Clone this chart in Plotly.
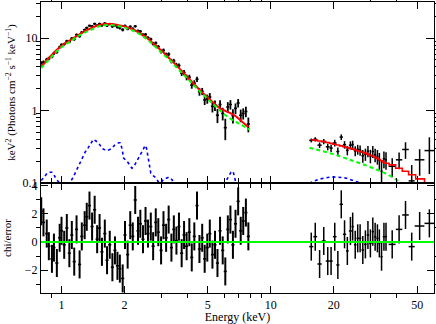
import plotly.graph_objects as go
from plotly.subplots import make_subplots

# low energy spectrum (keV, keV^2 Photons cm^-2 s^-1 keV^-1)
lo_e = [0.80, 0.82, 0.85, 0.87, 0.90, 0.92, 0.95, 0.98, 1.00, 1.03, 1.06, 1.09, 1.12, 1.15, 1.18, 1.22,
        1.25, 1.29, 1.32, 1.36, 1.40, 1.44, 1.48, 1.52, 1.56, 1.61, 1.65, 1.70, 1.75, 1.80, 1.85, 1.90,
        1.96, 2.01, 2.07, 2.13, 2.19, 2.25, 2.32, 2.38, 2.45, 2.52, 2.59, 2.67, 2.74, 2.82, 2.90, 2.99,
        3.07, 3.16, 3.25, 3.35, 3.44, 3.54, 3.64, 3.75, 3.85, 3.96, 4.08, 4.19, 4.31, 4.44, 4.56, 4.70,
        4.83, 4.97, 5.11, 5.26, 5.41, 5.56, 5.72, 5.89, 6.06, 6.23, 6.41, 6.59, 6.78, 6.98, 7.18, 7.38,
        7.60, 7.81]
lo_model = [4.0, 4.3, 4.9, 5.3, 5.9, 6.3, 6.9, 7.4, 7.8, 8.3, 8.7, 9.2, 9.7, 10.2, 10.7, 11.3,
            11.8, 12.4, 12.9, 13.4, 13.9, 14.4, 14.8, 15.1, 15.4, 15.6, 15.7, 15.7, 15.6, 15.4, 15.2, 15.0,
            14.7, 14.4, 14.0, 13.6, 13.2, 12.7, 12.1, 11.6, 11.0, 10.4, 9.8, 9.1, 8.5, 7.9, 7.3, 6.8,
            6.3, 5.8, 5.4, 4.95, 4.55, 4.2, 3.85, 3.5, 3.2, 2.95, 2.7, 2.5, 2.3, 2.1, 1.93, 1.78,
            1.65, 1.53, 1.42, 1.32, 1.22, 1.14, 1.07, 1.02, 0.98, 0.95, 0.92, 0.89, 0.84, 0.78, 0.72, 0.67,
            0.63, 0.59]
lo_flux = [4.53, 4.65, 5.06, 5.22, 5.54, 6.17, 6.41, 7.5, 8.09, 8.23, 9.08, 8.88, 9.9, 9.6, 11.1, 10.56,
           11.99, 13.0, 13.84, 14.8, 14.52, 15.73, 14.92, 15.7, 14.97, 15.97, 14.88, 15.57, 14.45, 15.01, 14.11, 13.77,
           13.01, 14.73, 13.43, 14.36, 13.45, 14.53, 12.57, 12.35, 11.11, 11.2, 10.11, 9.63, 8.36, 8.52, 7.59, 6.55,
           6.77, 5.91, 5.98, 4.81, 4.84, 4.23, 4.17, 3.28, 3.34, 2.87, 2.87, 2.24, 2.39, 2.70, 1.82, 1.84,
           1.40, 1.45, 1.54, 1.14, 1.18, 0.86, 1.21, 0.91, 0.58, 1.12, 1.21, 0.85, 1.07, 1.27, 0.86, 0.91,
           0.97, 0.65]
lo_err = [0.24, 0.25, 0.27, 0.28, 0.30, 0.32, 0.33, 0.35, 0.36, 0.37, 0.38, 0.40, 0.41, 0.43, 0.44, 0.46,
          0.47, 0.50, 0.52, 0.54, 0.56, 0.58, 0.59, 0.60, 0.62, 0.62, 0.63, 0.63, 0.64, 0.65, 0.64, 0.65,
          0.65, 0.65, 0.63, 0.63, 0.62, 0.61, 0.59, 0.58, 0.55, 0.53, 0.51, 0.48, 0.47, 0.44, 0.42, 0.41,
          0.39, 0.37, 0.36, 0.34, 0.32, 0.31, 0.29, 0.28, 0.27, 0.26, 0.24, 0.24, 0.23, 0.23, 0.22, 0.21,
          0.21, 0.21, 0.20, 0.20, 0.195, 0.19, 0.18, 0.18, 0.19, 0.185, 0.18, 0.19, 0.18, 0.17, 0.17, 0.16,
          0.16, 0.15]
lo_chi = [2.2, 1.4, 0.6, -0.3, -1.2, -0.4, -1.5, 0.3, 0.8, -0.2, 1.0, -0.8, 0.5, -1.4, 0.9, -1.6,
          0.4, 1.2, 1.8, 2.6, 1.1, 2.3, 0.2, 1.0, -0.7, 0.6, -1.3, -0.2, -1.8, -0.6, -1.7, -1.9,
          -2.6, 0.5, -0.9, 1.2, 0.4, 3.0, 0.8, 1.3, 0.2, 1.5, 0.6, 1.1, -0.3, 1.4, 0.7, -0.6,
          1.2, 0.3, 1.6, -0.4, 0.9, 0.1, 1.1, -0.8, 0.5, -0.3, 0.7, -1.1, 0.4, 2.6, -0.5, 0.3,
          -1.2, -0.4, 0.6, -0.9, -0.2, -1.5, 0.8, -0.6, -2.1, 0.9, 1.6, -0.2, 1.3, 2.9, 0.8, 1.5,
          2.1, 0.4]

# high energy spectrum
hi_e = [15.6, 16.3, 17.1, 17.9, 18.7, 19.4, 20.2, 20.9, 21.7, 22.5, 23.2, 24.0, 24.6, 25.3, 26.0, 26.7,
        27.5, 28.3, 29.1, 29.9, 30.7, 31.5, 32.3, 33.0, 33.8, 34.7, 35.5, 38.0, 41.0, 44.0, 47.1, 51.4, 57.2]
hi_de = [0.35, 0.35, 0.4, 0.4, 0.4, 0.35, 0.4, 0.35, 0.4, 0.4, 0.35, 0.4, 0.3, 0.35, 0.35, 0.35,
         0.4, 0.4, 0.4, 0.4, 0.4, 0.4, 0.4, 0.35, 0.4, 0.45, 0.4, 1.45, 1.45, 1.6, 1.55, 2.75, 3.0]
hi_model = [0.395, 0.39, 0.38, 0.372, 0.362, 0.353, 0.343, 0.334, 0.325, 0.316, 0.308, 0.30, 0.293, 0.286,
            0.279, 0.272, 0.265, 0.258, 0.25, 0.242, 0.234, 0.226, 0.218, 0.211, 0.203, 0.195, 0.187,
            0.178, 0.16, 0.145, 0.13, 0.114, 0.085]
hi_flux = [0.387, 0.40, 0.333, 0.374, 0.316, 0.304, 0.357, 0.272, 0.43, 0.338, 0.282, 0.333, 0.34, 0.277,
           0.291, 0.284, 0.238, 0.25, 0.275, 0.237, 0.272, 0.246, 0.232, 0.206, 0.145, 0.216, 0.209,
           0.17, 0.209, 0.29, 0.107, 0.209, 0.28]
hi_err = [0.024, 0.027, 0.030, 0.032, 0.034, 0.036, 0.037, 0.038, 0.039, 0.040, 0.041, 0.042, 0.043, 0.044,
          0.045, 0.046, 0.047, 0.048, 0.049, 0.050, 0.051, 0.052, 0.053, 0.054, 0.055, 0.056, 0.057,
          0.05, 0.054, 0.075, 0.07, 0.083, 0.147]
hi_chi = [-0.33, 0.38, -1.57, 0.07, -1.36, -1.36, 0.38, -1.64, 2.69, 0.55, -0.64, 0.79, 1.1, -0.2, 0.26, 0.26,
          -0.57, -0.17, 0.5, -0.1, 0.74, 0.38, 0.26, -0.1, -1.05, 0.38, 0.38, -0.17, 0.9, 1.93, -0.33, 1.14, 1.33]

# model components
green_lo_e = [0.80, 0.85, 0.90, 0.95, 1.0, 1.1, 1.2, 1.3, 1.4, 1.5, 1.6, 1.7, 1.8, 1.9, 2.0, 2.2,
              2.4, 2.6, 2.8, 3.0, 3.3, 3.6, 4.0, 4.5, 5.0, 5.5, 6.0, 6.5, 7.0, 7.5, 7.9]
green_lo_f = [3.85, 4.65, 5.6, 6.6, 7.45, 9.0, 10.6, 12.0, 13.3, 14.4, 15.0, 15.2, 14.9, 14.5, 14.0, 12.6,
              11.0, 9.25, 7.65, 6.4, 4.9, 3.75, 2.72, 1.93, 1.43, 1.10, 0.88, 0.75, 0.66, 0.59, 0.55]
green_hi_e = [15.3, 17, 19, 21, 23, 25, 27, 29, 31, 33, 35, 37, 39, 41, 43, 45]
green_hi_f = [0.306, 0.285, 0.26, 0.238, 0.218, 0.201, 0.187, 0.172, 0.159, 0.148, 0.137, 0.126, 0.116,
              0.106, 0.097, 0.089]
blue_lo_e = [0.80, 0.83, 0.855, 0.88, 0.90, 0.92, 0.94, 0.97, 1.00, 1.05, 1.10, 1.14, 1.17, 1.20, 1.23, 1.27,
             1.30, 1.34, 1.37, 1.42, 1.46, 1.50, 1.53, 1.56, 1.60, 1.65, 1.70, 1.74, 1.79, 1.84, 1.88, 1.91,
             1.95, 1.98, 2.02, 2.06, 2.11, 2.17, 2.22, 2.29, 2.35, 2.42, 2.47, 2.51, 2.55, 2.58, 2.62, 2.67,
             2.75, 2.82, 2.90, 2.98, 3.07, 3.17, 3.25, 3.32, 3.38, 3.45, 3.6, 4.0, 5.0, 5.8, 6.0, 6.15,
             6.3, 6.45, 6.6, 6.7, 6.8, 6.95, 7.2, 7.9]
blue_lo_f = [0.108, 0.125, 0.137, 0.141, 0.141, 0.13, 0.115, 0.103, 0.095, 0.094, 0.102, 0.122, 0.143, 0.17,
             0.198, 0.235, 0.27, 0.305, 0.34, 0.40, 0.38, 0.36, 0.33, 0.30, 0.29, 0.28, 0.29, 0.30, 0.33,
             0.35, 0.36, 0.36, 0.29, 0.22, 0.21, 0.198, 0.18, 0.16, 0.17, 0.198, 0.23, 0.27, 0.30, 0.33,
             0.30, 0.245, 0.18, 0.137, 0.125, 0.118, 0.104, 0.10, 0.112, 0.118, 0.12, 0.115, 0.11, 0.09,
             0.07, 0.05, 0.05, 0.07, 0.095, 0.11, 0.125, 0.14, 0.145, 0.125, 0.1, 0.08, 0.07, 0.06]
blue_hi_e = [15.3, 16.0, 17.0, 18.0, 19.0, 20.0, 21.0, 22.0, 23.0, 24.0, 25.0, 26.0, 27.0, 28.0, 30.0]
blue_hi_f = [0.099, 0.106, 0.113, 0.117, 0.12, 0.121, 0.121, 0.119, 0.116, 0.112, 0.107, 0.103, 0.099,
             0.095, 0.088]

FONT = 'Liberation Serif'

fig = make_subplots(rows=2, cols=1, shared_xaxes=True, vertical_spacing=0,
                    row_heights=[0.622, 0.378])

# data crosses, top panel
fig.add_trace(go.Scatter(
    x=lo_e, y=lo_flux, mode='markers', marker=dict(size=1, color='black'),
    error_y=dict(type='data', array=lo_err, width=0, thickness=1.8, color='black'),
    error_x=dict(type='percent', value=1.7, width=0, thickness=1.6, color='black'),
), row=1, col=1)
fig.add_trace(go.Scatter(
    x=hi_e, y=hi_flux, mode='markers', marker=dict(size=1, color='black'),
    error_y=dict(type='data', array=hi_err, width=0, thickness=1.5, color='black'),
    error_x=dict(type='data', array=hi_de, width=0, thickness=1.5, color='black'),
), row=1, col=1)

# components
fig.add_trace(go.Scatter(x=blue_lo_e, y=blue_lo_f, mode='lines',
                         line=dict(color='#0000ff', width=1.6, dash='3px,3px')), row=1, col=1)
fig.add_trace(go.Scatter(x=blue_hi_e, y=blue_hi_f, mode='lines',
                         line=dict(color='#0000ff', width=1.6, dash='3px,3px')), row=1, col=1)
fig.add_trace(go.Scatter(x=lo_e, y=lo_model, mode='lines',
                         line=dict(color='#ff0000', width=2)), row=1, col=1)
fig.add_trace(go.Scatter(x=hi_e, y=hi_model, mode='lines', line_shape='hvh',
                         line=dict(color='#ff0000', width=1.6)), row=1, col=1)
fig.add_trace(go.Scatter(x=green_lo_e, y=green_lo_f, mode='lines',
                         line=dict(color='#00ff00', width=2, dash='4px,3px')), row=1, col=1)
fig.add_trace(go.Scatter(x=green_hi_e, y=green_hi_f, mode='lines',
                         line=dict(color='#00ff00', width=2, dash='4px,3px')), row=1, col=1)

# residuals
fig.add_trace(go.Scatter(
    x=lo_e, y=lo_chi, mode='markers', marker=dict(size=1, color='black'),
    error_y=dict(type='constant', value=1, width=0, thickness=2.0, color='black'),
    error_x=dict(type='percent', value=1.7, width=0, thickness=1.6, color='black'),
), row=2, col=1)
fig.add_trace(go.Scatter(
    x=hi_e, y=hi_chi, mode='markers', marker=dict(size=1, color='black'),
    error_y=dict(type='constant', value=1, width=0, thickness=1.5, color='black'),
    error_x=dict(type='data', array=hi_de, width=0, thickness=1.5, color='black'),
), row=2, col=1)
fig.add_hline(y=0, line=dict(color='#00ff00', width=2), row=2, col=1)

axis_style = dict(showline=True, linecolor='black', linewidth=1.2, mirror='allticks',
                  ticks='inside', tickcolor='black', tickwidth=1.2, showgrid=False,
                  zeroline=False, automargin=False,
                  tickfont=dict(family=FONT, size=12, color='black'))
x_minor = dict(tickmode='array', tickvals=[0.9, 3, 4, 6, 7, 8, 9, 30, 40, 60],
               ticklen=4, tickwidth=1, tickcolor='black')

fig.update_xaxes(type='log', range=[-0.098, 1.7795], tickmode='array',
                 tickvals=[1, 2, 5, 10, 20, 50], ticktext=['1', '2', '5', '10', '20', '50'],
                 ticklen=7, minor=x_minor, **axis_style)
fig.update_xaxes(showticklabels=False, row=1, col=1)
fig.update_xaxes(title=dict(text='Energy (keV)', font=dict(family=FONT, size=12, color='black'),
                            standoff=4), row=2, col=1)

fig.update_yaxes(type='log', range=[-1, 1.497], tickmode='array', tickvals=[0.1, 1, 10],
                 ticktext=['0.1', '1', '10'], ticklen=8,
                 minor=dict(tickmode='array',
                            tickvals=[0.2, 0.3, 0.4, 0.5, 0.6, 0.7, 0.8, 0.9,
                                      2, 3, 4, 5, 6, 7, 8, 9, 20, 30],
                            ticklen=4, tickwidth=1, tickcolor='black'),
                 title=dict(text='keV<sup>2</sup> (Photons cm<sup>−2</sup> s<sup>−1</sup> keV<sup>−1</sup>)',
                            font=dict(family=FONT, size=11, color='black'), standoff=4),
                 row=1, col=1, **axis_style)
fig.update_yaxes(range=[-3.64, 4.21], tickmode='array', tickvals=[-2, 0, 2, 4],
                 ticktext=['−2', '0', '2', '4'], ticklen=7,
                 minor=dict(tickmode='array', tickvals=[-3, -1, 1, 3], ticklen=4,
                            tickwidth=1, tickcolor='black'),
                 title=dict(text='chi/error', font=dict(family=FONT, size=11, color='black'),
                            standoff=10),
                 row=2, col=1, **axis_style)

fig.update_layout(
    width=436, height=324, template='none',
    margin=dict(l=41, r=2, t=2, b=31),
    paper_bgcolor='white', plot_bgcolor='white',
    showlegend=False,
    font=dict(family=FONT, size=12, color='black'),
)

fig.write_html("out.html", config={'displayModeBar': False},
               post_script="document.body.style.margin='0';")
